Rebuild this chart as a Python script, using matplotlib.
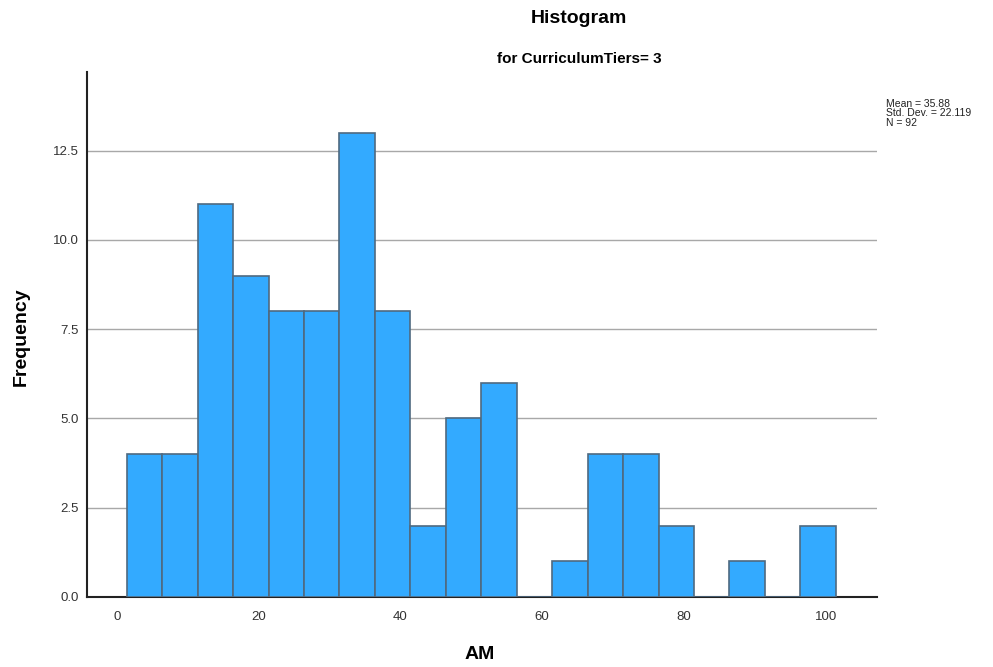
import numpy as np
import matplotlib.pyplot as plt

plt.rcParams['font.family'] = ['Liberation Sans', 'DejaVu Sans']

# Histogram of AM for CurriculumTiers = 3
bin_start = 1.4
bin_width = 5.0
counts = [4, 4, 11, 9, 8, 8, 13, 8, 2, 5, 6, 0, 1, 4, 4, 2, 0, 1, 0, 2]
x_ticks = [0, 20, 40, 60, 80, 100]
y_ticks = [0.0, 2.5, 5.0, 7.5, 10.0, 12.5]
stats_text = "Mean = 35.88\nStd. Dev. = 22.119\nN = 92"

edges = bin_start + bin_width * np.arange(len(counts) + 1)

fig = plt.figure(figsize=(9.93, 6.67), dpi=100)
ax = fig.add_axes([0.0876, 0.105, 0.7955, 0.787])

ax.bar(edges[:-1], counts, width=bin_width, align='edge',
       color='#33aaff', edgecolor='#4f6a80', linewidth=1.2, zorder=3)

ax.set_xlim(-4.2, 107.2)
ax.set_ylim(0, 14.7)
ax.set_xticks(x_ticks)
ax.set_yticks(y_ticks)
ax.set_yticklabels([f"{v:.1f}" for v in y_ticks])
ax.tick_params(axis='both', length=0, labelsize=9.5, colors='#333333')
ax.tick_params(axis='x', pad=10)
ax.tick_params(axis='y', pad=6)

ax.grid(axis='y', color='#a8a8a8', linewidth=1.0, zorder=0)
for s in ['top', 'right']:
    ax.spines[s].set_visible(False)
for s in ['left', 'bottom']:
    ax.spines[s].set_color('#222222')
    ax.spines[s].set_linewidth(1.5)

# axis titles placed in figure coordinates
fig.text(0.483, 0.018, 'AM', ha='center', va='center',
         fontsize=14, fontweight='bold')
fig.text(0.021, 0.495, 'Frequency', ha='center', va='center',
         rotation=90, fontsize=14, fontweight='bold')

fig.text(0.583, 0.972, 'Histogram', ha='center', va='center',
         fontsize=14, fontweight='bold')
fig.text(0.583, 0.912, 'for CurriculumTiers= 3', ha='center', va='center',
         fontsize=11, fontweight='bold')
fig.text(0.892, 0.852, stats_text, ha='left', va='top', fontsize=7.5,
         linespacing=0.95, color='#222222')

fig.savefig('out.png', dpi=100)
